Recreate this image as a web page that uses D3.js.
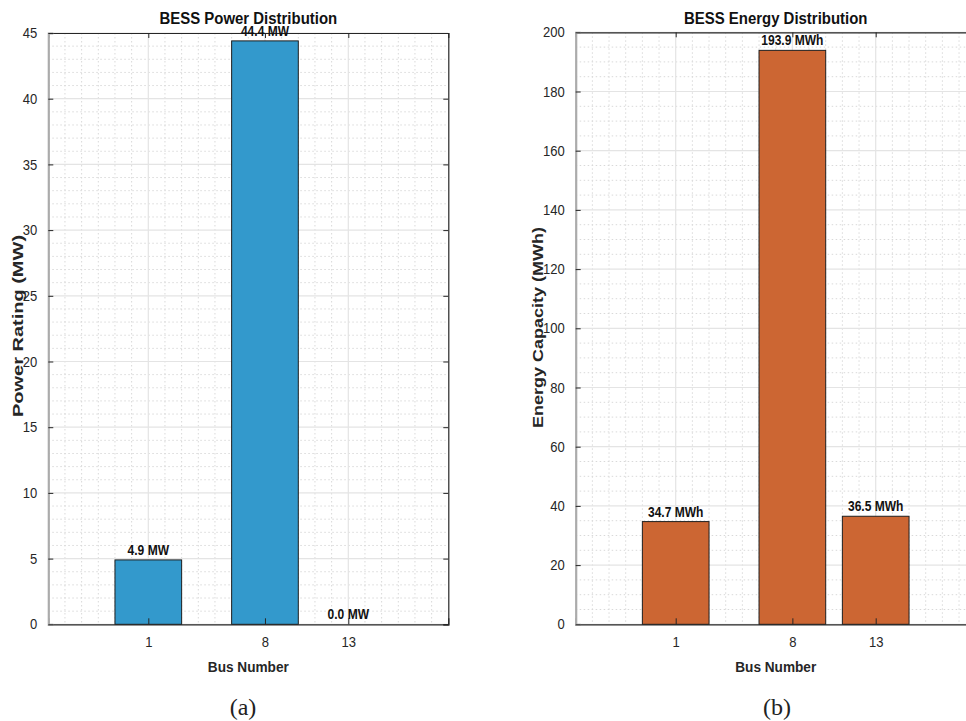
<!DOCTYPE html>
<html>
<head>
<meta charset="utf-8">
<script src="https://cdn.jsdelivr.net/npm/d3@7"></script>
<style>
  html, body { margin: 0; padding: 0; background: #fff; }
  svg { display: block; }
  text { font-family: "Liberation Sans", Arial, Helvetica, sans-serif; fill: #262626; }
</style>
</head>
<body>
<svg id="chart" width="966" height="721"></svg>
<script>
// ---------- data ----------
const buses = [1, 8, 13];
const powerMW = [4.9, 44.4, 0.0];
const energyMWh = [34.7, 193.9, 36.5];
const xTickValues = [1, 8, 13];
const powerTicks = [0, 5, 10, 15, 20, 25, 30, 35, 40, 45];
const energyTicks = [0, 20, 40, 60, 80, 100, 120, 140, 160, 180, 200];
const xDomain = [-5, 19];
const barWidthUnits = 4;

const svg = d3.select("#chart");
const SX = 0.88; // horizontal squeeze of rendered text
const TICK_SX = 0.9;

function addText(g, x, y, str, o) {
  o = o || {};
  let tr = `translate(${x},${y}) scale(${o.sx || SX},1)`;
  if (o.rotate) tr += ` rotate(${o.rotate})`;
  const t = g.append("text")
    .attr("transform", tr)
    .attr("text-anchor", o.anchor || "middle")
    .attr("font-size", o.size || 14)
    .attr("font-weight", o.weight || "normal")
    .style("font-family", o.family || null)
    .text(str);
  return t;
}

function panel(cfg) {
  const g = svg.append("g");
  const x = d3.scaleLinear().domain(xDomain).range([cfg.left, cfg.right]);
  const y = d3.scaleLinear().domain([0, cfg.ymax]).range([cfg.bottom, cfg.top]);

  // minor grid
  const minorX = d3.range(xDomain[0] + 1, xDomain[1]).filter(v => !cfg.xTicks.includes(v));
  const minorY = d3.range(0, cfg.ymax + 1e-9, cfg.yMinor).filter(v => !cfg.yTicks.includes(v));
  g.append("g").selectAll("line").data(minorX).join("line")
    .attr("x1", d => x(d)).attr("x2", d => x(d))
    .attr("y1", cfg.top).attr("y2", cfg.bottom)
    .attr("stroke", "#d9d9d9").attr("stroke-width", 1).attr("stroke-dasharray", "1.5,2.5");
  g.append("g").selectAll("line").data(minorY).join("line")
    .attr("y1", d => y(d)).attr("y2", d => y(d))
    .attr("x1", cfg.left).attr("x2", cfg.right)
    .attr("stroke", "#d9d9d9").attr("stroke-width", 1).attr("stroke-dasharray", "1.5,2.5");
  // major grid
  g.append("g").selectAll("line").data(cfg.xTicks).join("line")
    .attr("x1", d => x(d)).attr("x2", d => x(d))
    .attr("y1", cfg.top).attr("y2", cfg.bottom)
    .attr("stroke", "#e4e4e4").attr("stroke-width", 1.2);
  g.append("g").selectAll("line").data(cfg.yTicks).join("line")
    .attr("y1", d => y(d)).attr("y2", d => y(d))
    .attr("x1", cfg.left).attr("x2", cfg.right)
    .attr("stroke", "#e4e4e4").attr("stroke-width", 1.2);

  // bars
  g.append("g").selectAll("rect").data(cfg.values).join("rect")
    .attr("x", (d, i) => x(buses[i] - barWidthUnits / 2))
    .attr("width", x(barWidthUnits) - x(0))
    .attr("y", d => y(d))
    .attr("height", d => y(0) - y(d))
    .attr("fill", cfg.color)
    .attr("stroke", "#1f1f1f").attr("stroke-width", 1);

  // axes
  const axG = g.append("g");
  const bottomAxis = d3.axisBottom(x).tickValues(cfg.xTicks).tickSize(-6).tickPadding(12).tickFormat(d3.format("d"));
  const topAxis = d3.axisTop(x).tickValues(cfg.xTicks).tickSize(-5).tickFormat("");
  const leftAxis = d3.axisLeft(y).tickValues(cfg.yTicks).tickSize(-5).tickPadding(11).tickFormat(d3.format("d"));
  const rightAxis = d3.axisRight(y).tickValues(cfg.yTicks).tickSize(-5).tickFormat("");

  const ta = axG.append("g").attr("transform", `translate(0,${cfg.top})`).call(topAxis);
  const ra = axG.append("g").attr("transform", `translate(${cfg.right},0)`).call(rightAxis);
  const ba = axG.append("g").attr("transform", `translate(0,${cfg.bottom})`).call(bottomAxis);
  const la = axG.append("g").attr("transform", `translate(${cfg.left},0)`).call(leftAxis);
  [ta, ra, ba, la].forEach(a => {
    a.selectAll(".domain").attr("stroke", "#262626").attr("stroke-width", 1.2);
    a.selectAll(".tick line").attr("stroke", "#262626").attr("stroke-width", 1);
  });
  la.select(".domain").attr("stroke", "#ababab").attr("stroke-width", 2.2);
  // tick labels
  ba.selectAll(".tick text").attr("font-size", 14.5).attr("fill", "#333")
    .style("font-family", "'Liberation Sans', Arial, sans-serif")
    .attr("transform", "scale(" + TICK_SX + ",1)");
  la.selectAll(".tick text").attr("font-size", 14.5).attr("fill", "#333")
    .style("font-family", "'Liberation Sans', Arial, sans-serif");
  la.selectAll(".tick text").each(function() {
    const t = d3.select(this);
    const xx = +t.attr("x");
    t.attr("x", null).attr("transform", `translate(${xx},0) scale(${TICK_SX},1)`);
  });

  // bar value labels
  cfg.values.forEach((v, i) => {
    addText(g, x(buses[i]), y(v) - 5, v.toFixed(1) + " " + cfg.unit, { size: 14, weight: "bold", sx: 0.86 })
      .style("fill", "#111");
  });

  // title
  addText(g, (cfg.left + cfg.right) / 2, 24, cfg.title, { size: 17, weight: "bold" }).style("fill", "#111");
  // x label
  addText(g, (cfg.left + cfg.right) / 2, 671.5, "Bus Number", { size: 15.5, weight: "bold" });
  // y label
  addText(g, cfg.ylabelX, cfg.ylabelY, cfg.ylabel,
    { size: cfg.ylabelSize, weight: "bold", rotate: -90, sx: cfg.ylabelSX });
  // caption
  addText(g, cfg.captionX, 715, cfg.caption, { size: 24, sx: 1, family: "'Liberation Serif', 'DejaVu Serif', serif" })
    .style("fill", "#222");
}

panel({
  left: 48.3, right: 448.3, top: 33, bottom: 624.3,
  ymax: 45, yTicks: powerTicks, yMinor: 1, xTicks: xTickValues,
  values: powerMW, color: "#3399cc", unit: "MW",
  title: "BESS Power Distribution", ylabel: "Power Rating (MW)",
  ylabelX: 23, ylabelY: 326, ylabelSize: 20, ylabelSX: 0.7,
  caption: "(a)", captionX: 243
});
panel({
  left: 575.7, right: 975.7, top: 32.3, bottom: 624.3,
  ymax: 200, yTicks: energyTicks, yMinor: 5, xTicks: xTickValues,
  values: energyMWh, color: "#cc6633", unit: "MWh",
  title: "BESS Energy Distribution", ylabel: "Energy Capacity (MWh)",
  ylabelX: 543, ylabelY: 327.5, ylabelSize: 18, ylabelSX: 0.78,
  caption: "(b)", captionX: 777
});
</script>
</body>
</html>
